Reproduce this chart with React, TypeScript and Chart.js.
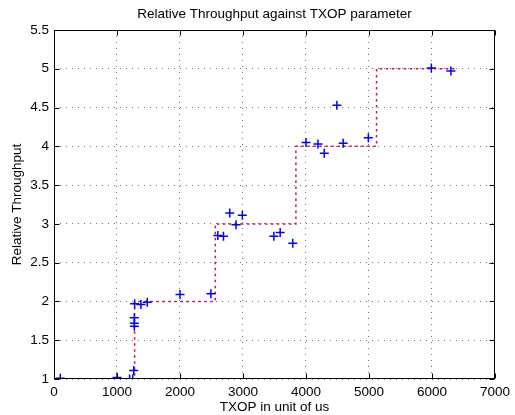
import React, { useEffect, useRef } from 'react';
import { Chart, registerables } from 'chart.js';

Chart.register(...registerables);

const TITLE = 'Relative Throughput against TXOP parameter';
const X_LABEL = 'TXOP in unit of us';
const Y_LABEL = 'Relative Throughput';

// Measured points (blue +)
const txop = [100, 1000, 1200, 1250, 1265, 1275, 1275, 1275, 1280, 1380, 1480, 2000, 2490, 2600, 2690, 2790, 2890, 2990, 3490, 3590, 3790, 4000, 4190, 4290, 4490, 4590, 4990, 5990, 6300];
const throughput = [1.01, 1.02, 1.0, 1.0, 1.11, 1.79, 1.72, 1.68, 1.97, 1.96, 1.99, 2.09, 2.10, 2.85, 2.84, 3.14, 2.99, 3.11, 2.84, 2.89, 2.75, 4.05, 4.03, 3.91, 4.53, 4.04, 4.11, 5.01, 4.97];

// Theoretical step curve (dotted)
const stepX = [0, 1280, 1280, 2560, 2560, 3840, 3840, 5120, 5120, 6400];
const stepY = [1, 1, 2, 2, 3, 3, 4, 4, 5, 5];

const X_MIN = 0, X_MAX = 7000, X_STEP = 1000;
const Y_MIN = 1, Y_MAX = 5.5, Y_STEP = 0.5;

const FONT = '"Liberation Sans", Arial, Helvetica, sans-serif';
const FS = 13.5;

const framePlugin = {
  id: 'matlabFrame',
  afterDraw(chart: any) {
    const { ctx, chartArea } = chart;
    const { left, right, top, bottom } = chartArea;
    const xs = chart.scales.x;
    const ys = chart.scales.y;
    ctx.save();
    ctx.strokeStyle = '#000';
    ctx.lineWidth = 1;
    ctx.setLineDash([]);
    const L = Math.round(left) + 0.5, R = Math.round(right) - 0.5;
    const T = Math.round(top) + 0.5, B = Math.round(bottom) - 0.5;
    ctx.beginPath();
    ctx.rect(L, T, R - L, B - T);
    ctx.stroke();
    const tl = 5;
    ctx.beginPath();
    xs.ticks.forEach((t: any) => {
      const px = Math.round(xs.getPixelForValue(t.value)) + 0.5;
      ctx.moveTo(px, B); ctx.lineTo(px, B - tl);
      ctx.moveTo(px, T); ctx.lineTo(px, T + tl);
    });
    ys.ticks.forEach((t: any) => {
      const py = Math.round(ys.getPixelForValue(t.value)) + 0.5;
      ctx.moveTo(L, py); ctx.lineTo(L + tl, py);
      ctx.moveTo(R, py); ctx.lineTo(R - tl, py);
    });
    ctx.stroke();

    ctx.fillStyle = '#000';
    ctx.font = FS + 'px ' + FONT;
    ctx.textAlign = 'center';
    ctx.textBaseline = 'middle';
    const cx = (left + right) / 2;
    ctx.fillText(TITLE, cx, 14.5);
    ctx.fillText(X_LABEL, cx, 407);
    ctx.translate(17, (top + bottom) / 2);
    ctx.rotate(-Math.PI / 2);
    ctx.fillText(Y_LABEL, 0, 0);
    ctx.restore();
  },
};

export default function App() {
  const ref = useRef<HTMLCanvasElement | null>(null);
  useEffect(() => {
    if (!ref.current) return;
    const chart = new Chart(ref.current, {
      type: 'scatter',
      data: {
        datasets: [
          {
            label: 'measured',
            data: txop.map((x, i) => ({ x, y: throughput[i] })),
            pointStyle: 'cross',
            pointRadius: 4.5,
            pointBorderWidth: 1.5,
            borderColor: '#0000ff',
            backgroundColor: '#0000ff',
            showLine: false,
          },
          {
            label: 'theory',
            data: stepX.map((x, i) => ({ x, y: stepY[i] })),
            showLine: true,
            pointRadius: 0,
            borderColor: '#c0165a',
            borderWidth: 1.5,
            borderDash: [2.5, 3.5],
            fill: false,
          },
        ],
      },
      options: {
        responsive: false,
        animation: false,
        layout: { padding: { left: 0, right: 17, top: 30, bottom: 0 } },
        plugins: {
          legend: { display: false },
          title: { display: false },
          tooltip: { enabled: false },
        },
        scales: {
          x: {
            type: 'linear',
            min: X_MIN,
            max: X_MAX,
            afterFit: (s: any) => { s.height = 36; },
            ticks: {
              stepSize: X_STEP,
              padding: 5,
              color: '#000',
              font: { size: FS, family: FONT },
              maxRotation: 0,
              callback: (v: any) => String(v),
            },
            grid: { color: 'rgba(0,0,0,0.55)', drawTicks: false, lineWidth: 1 },
            border: { display: false, dash: [1, 5] },
          },
          y: {
            type: 'linear',
            min: Y_MIN,
            max: Y_MAX,
            afterFit: (s: any) => { s.width = 54; },
            ticks: {
              stepSize: Y_STEP,
              padding: 5,
              color: '#000',
              font: { size: FS, family: FONT },
              callback: (v: any) => String(v),
            },
            grid: { color: 'rgba(0,0,0,0.55)', drawTicks: false, lineWidth: 1 },
            border: { display: false, dash: [1, 5] },
          },
        },
      },
      plugins: [framePlugin],
    });
    return () => chart.destroy();
  }, []);
  return (
    <div style={{ position: 'absolute', left: 0, top: 0, width: 515, height: 415, background: '#fff' }}>
      <canvas ref={ref} width={515} height={415} />
    </div>
  );
}
